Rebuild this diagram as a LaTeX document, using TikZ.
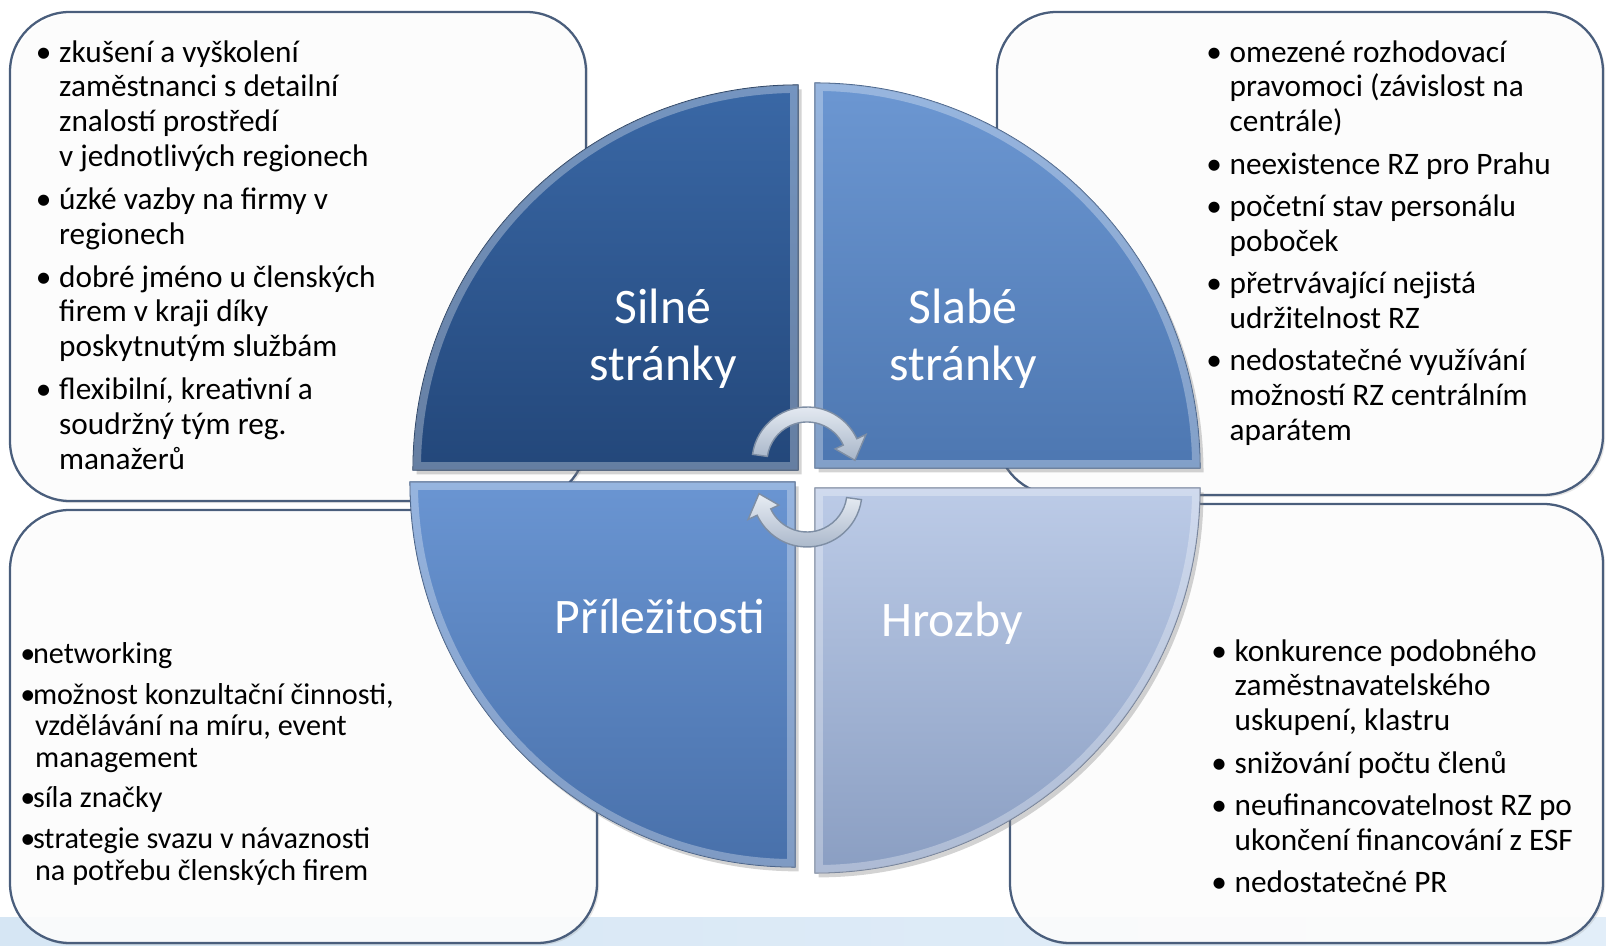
\documentclass[tikz,border=0pt]{standalone}
\usepackage{fontspec}
\setmainfont{Carlito}
\usetikzlibrary{shadows}

\definecolor{boxline}{HTML}{4A5E7C}
\definecolor{bandL}{HTML}{D6E6F4}
\definecolor{bandR}{HTML}{E2EEF9}
\definecolor{silneT}{HTML}{3A68A6}
\definecolor{silneB}{HTML}{23477A}
\definecolor{slabeT}{HTML}{6C97D2}
\definecolor{slabeB}{HTML}{4D77B1}
\definecolor{prilT}{HTML}{6A95D2}
\definecolor{prilB}{HTML}{4870AA}
\definecolor{hrozT}{HTML}{BCCBE7}
\definecolor{hrozB}{HTML}{8A9EC2}
\definecolor{arrowT}{HTML}{E8EDF4}
\definecolor{arrowB}{HTML}{A7B5C8}
\definecolor{arrowline}{HTML}{7E8EA4}

% bullet and hanging indent for the list lines
\newcommand{\swotbul}[1][13.3pt]{\makebox[#1][l]{\textbullet}}
\newcommand{\swotind}[1][13.3pt]{\hspace*{#1}}

\begin{document}
\begin{tikzpicture}[x=0.02cm,y=0.02cm,
    swotbox/.style={draw=boxline,line width=1.3pt,rounded corners=34pt,fill=white,fill opacity=.9,
      drop shadow={shadow xshift=1.2pt,shadow yshift=-1.2pt,opacity=.2}},
    swottext/.style={anchor=north west,inner sep=0pt,align=left,font=\fontsize{17.8}{19.8}\selectfont},
    quadrant/.style={drop shadow={shadow xshift=2pt,shadow yshift=-2.5pt,opacity=.35}},
    bevel/.style={white,opacity=.3,line width=9pt},
    quadlabel/.style={text=white,align=center,font=\fontsize{28.3}{32.3}\selectfont},
    cyclearrow/.style={draw=arrowline,line width=0.8pt,top color=arrowT,bottom color=arrowB}]
  \useasboundingbox (0,0) rectangle (1606,946);
  % light band at the bottom
  \shade[left color=bandL,right color=bandR] (0,0) rectangle (1606,28);

  % the four text boxes
  \draw[swotbox] (10,445) rectangle (586,934);
  \draw[swotbox] (997,451) rectangle (1603,934);
  \draw[swotbox] (10,3) rectangle (597,436);
  \draw[swotbox] (1010,3) rectangle (1603,442);

  \node[swottext] (silneText) at (35.5,910.5) {%
    \swotbul\rule{0pt}{15pt}zkušení a vyškolení\\
    \swotind zaměstnanci s detailní\\
    \swotind znalostí prostředí\\
    \swotind v~jednotlivých regionech\\[4.6pt]
    \swotbul úzké vazby na firmy v\\
    \swotind regionech\\[4.6pt]
    \swotbul dobré jméno u členských\\
    \swotind firem v kraji díky\\
    \swotind poskytnutým službám\\[4.6pt]
    \swotbul flexibilní, kreativní a\\
    \swotind soudržný tým reg.\\
    \swotind manažerů};
  \node[swottext] (slabeText) at (1206,910.5) {%
    \swotbul\rule{0pt}{15pt}omezené rozhodovací\\
    \swotind pravomoci (závislost na\\
    \swotind centrále)\\[4.3pt]
    \swotbul neexistence RZ pro Prahu\\[4.3pt]
    \swotbul početní stav personálu\\
    \swotind poboček\\[4.3pt]
    \swotbul přetrvávající nejistá\\
    \swotind udržitelnost RZ\\[4.3pt]
    \swotbul nedostatečné využívání\\
    \swotind možností RZ centrálním\\
    \swotind aparátem};
  \node[swottext,font=\fontsize{17.2}{17.9}\selectfont] (prilText) at (20,309.5) {%
    \swotbul[7.2pt]\rule{0pt}{15pt}networking\\[5.4pt]
    \swotbul[7.2pt]možnost konzultační činnosti,\\
    \swotind[8.4pt]vzdělávání na míru, event\\
    \swotind[8.4pt]management\\[5.4pt]
    \swotbul[7.2pt]síla značky\\[5.4pt]
    \swotbul[7.2pt]strategie svazu v návaznosti\\
    \swotind[8.4pt]na potřebu členských firem};
  \node[swottext] (hrozText) at (1211,311.5) {%
    \swotbul\rule{0pt}{15pt}konkurence podobného\\
    \swotind zaměstnavatelského\\
    \swotind uskupení, klastru\\[4.3pt]
    \swotbul snižování počtu členů\\[4.3pt]
    \swotbul neufinancovatelnost RZ po\\
    \swotind ukončení financování z ESF\\[4.3pt]
    \swotbul nedostatečné PR};

  % circle of four quadrants
  \foreach \cx/\cy/\s/\ct/\cb in {798/476/180/silneT/silneB, 815/478/90/slabeT/slabeB,
      815/458/0/hrozT/hrozB, 795/464/-90/prilT/prilB} {
    \path[quadrant,top color=\ct,bottom color=\cb,draw=\cb!75!black,line width=0.6pt]
      (\cx,\cy) -- +(\s:385) arc[start angle=\s,end angle=\s-90,radius=385] -- cycle;
    \begin{scope}
      \clip (\cx,\cy) -- +(\s:385) arc[start angle=\s,end angle=\s-90,radius=385] -- cycle;
      \draw[bevel] (\cx,\cy) -- +(\s:385) arc[start angle=\s,end angle=\s-90,radius=385] -- cycle;
    \end{scope}
  }

  \node[quadlabel] (silne) at (663,607) {Silné\\stránky};
  \node[quadlabel] (slabe) at (963,607) {Slabé\\stránky};
  \node[quadlabel,anchor=base] (pril) at (660,312) {Příležitosti};
  \node[quadlabel,anchor=base] (hroz) at (952,309) {Hrozby};

  % the two turning arrows in the middle
  \foreach \cy/\rot in {484/0, 454/180} {
    \begin{scope}[shift={(807,\cy)},rotate=\rot]
      \path[cyclearrow] (172:55) arc[start angle=172,end angle=25,radius=55]
        -- (25:65) -- (2:48) -- (25:31) -- (25:40)
        arc[start angle=25,end angle=172,radius=40] -- cycle;
    \end{scope}
  }
\end{tikzpicture}
\end{document}
